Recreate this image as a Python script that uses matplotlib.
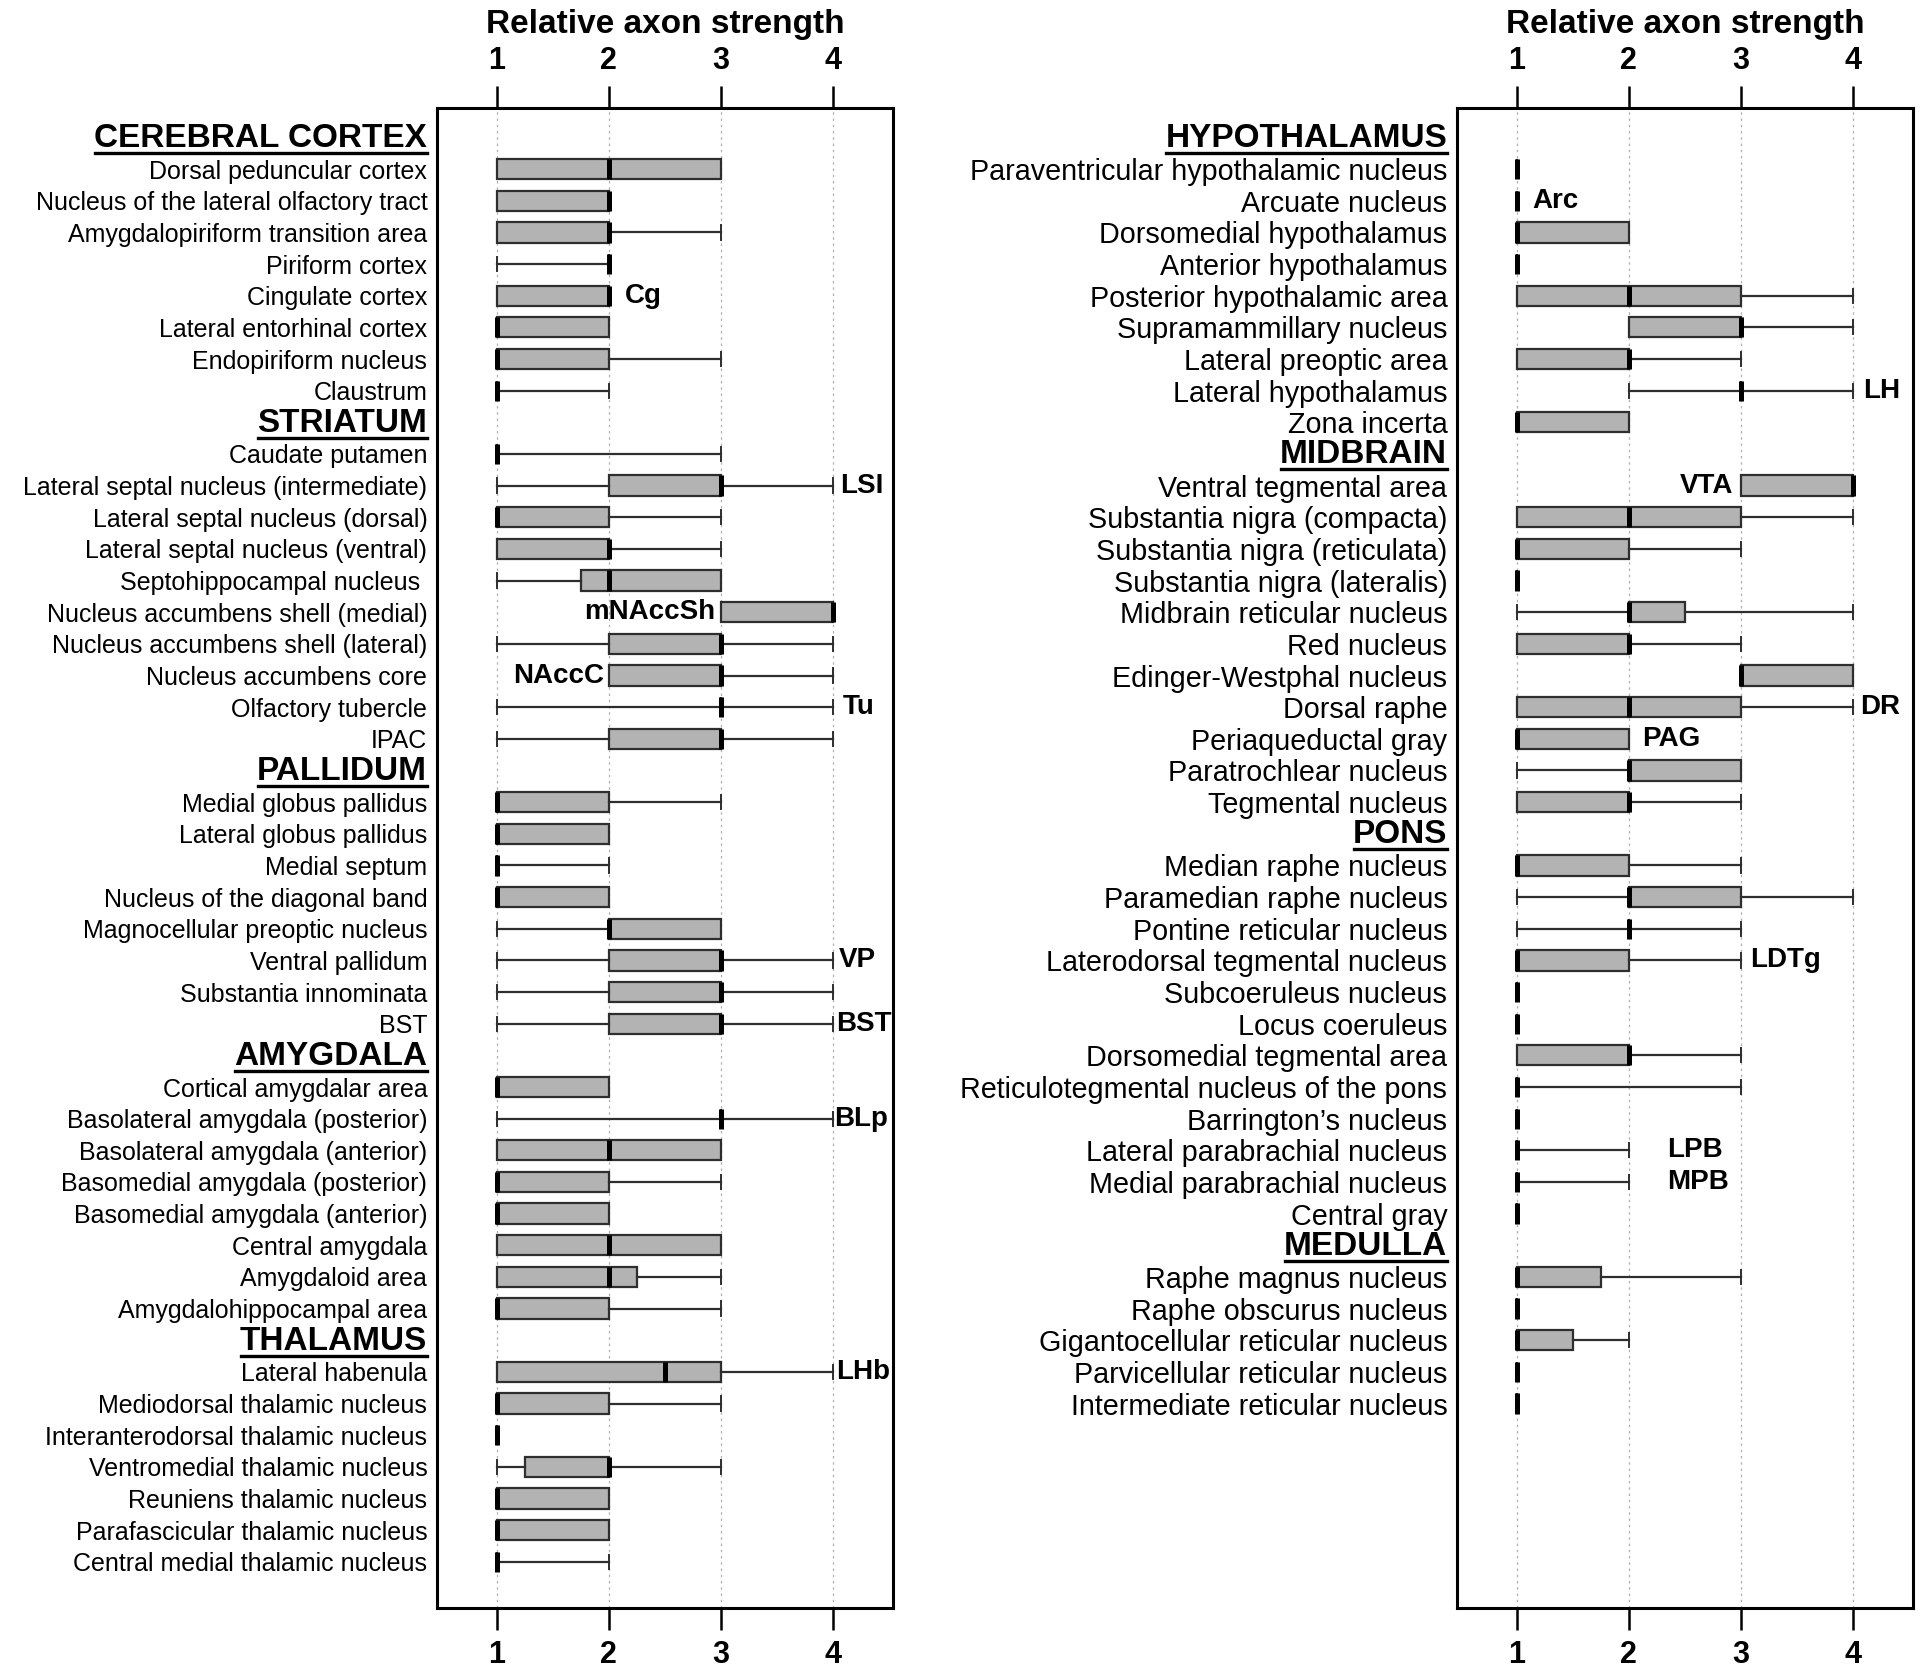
import matplotlib
matplotlib.use('Agg')
import matplotlib.pyplot as plt
from matplotlib.lines import Line2D
from matplotlib.transforms import blended_transform_factory

plt.rcParams['font.family'] = ['Liberation Sans', 'DejaVu Sans']

# ---------------- DATA ----------------
# each stat tuple: (whisker low, q1, median, q3, whisker high)
cortex_names = ["Dorsal peduncular cortex", "Nucleus of the lateral olfactory tract",
                "Amygdalopiriform transition area", "Piriform cortex", "Cingulate cortex",
                "Lateral entorhinal cortex", "Endopiriform nucleus", "Claustrum"]
cortex_stats = [(1, 1, 2, 3, 3), (1, 1, 2, 2, 2), (1, 1, 2, 2, 3), (1, 2, 2, 2, 2),
                (1, 1, 2, 2, 2), (1, 1, 1, 2, 2), (1, 1, 1, 2, 3), (1, 1, 1, 1, 2)]

striatum_names = ["Caudate putamen", "Lateral septal nucleus (intermediate)",
                  "Lateral septal nucleus (dorsal)", "Lateral septal nucleus (ventral)",
                  "Septohippocampal nucleus ", "Nucleus accumbens shell (medial)",
                  "Nucleus accumbens shell (lateral)", "Nucleus accumbens core",
                  "Olfactory tubercle", "IPAC"]
striatum_stats = [(1, 1, 1, 1, 3), (1, 2, 3, 3, 4), (1, 1, 1, 2, 3), (1, 1, 2, 2, 3),
                  (1, 1.75, 2, 3, 3), (3, 3, 4, 4, 4), (1, 2, 3, 3, 4), (2, 2, 3, 3, 4),
                  (1, 3, 3, 3, 4), (1, 2, 3, 3, 4)]

pallidum_names = ["Medial globus pallidus", "Lateral globus pallidus", "Medial septum",
                  "Nucleus of the diagonal band", "Magnocellular preoptic nucleus",
                  "Ventral pallidum", "Substantia innominata", "BST"]
pallidum_stats = [(1, 1, 1, 2, 3), (1, 1, 1, 2, 2), (1, 1, 1, 1, 2), (1, 1, 1, 2, 2),
                  (1, 2, 2, 3, 3), (1, 2, 3, 3, 4), (1, 2, 3, 3, 4), (1, 2, 3, 3, 4)]

amygdala_names = ["Cortical amygdalar area", "Basolateral amygdala (posterior)",
                  "Basolateral amygdala (anterior)", "Basomedial amygdala (posterior)",
                  "Basomedial amygdala (anterior)", "Central amygdala", "Amygdaloid area",
                  "Amygdalohippocampal area"]
amygdala_stats = [(1, 1, 1, 2, 2), (1, 3, 3, 3, 4), (1, 1, 2, 3, 3), (1, 1, 1, 2, 3),
                  (1, 1, 1, 2, 2), (1, 1, 2, 3, 3), (1, 1, 2, 2.25, 3), (1, 1, 1, 2, 3)]

thalamus_names = ["Lateral habenula", "Mediodorsal thalamic nucleus",
                  "Interanterodorsal thalamic nucleus", "Ventromedial thalamic nucleus",
                  "Reuniens thalamic nucleus", "Parafascicular thalamic nucleus",
                  "Central medial thalamic nucleus"]
thalamus_stats = [(1, 1, 2.5, 3, 4), (1, 1, 1, 2, 3), (1, 1, 1, 1, 1), (1, 1.25, 2, 2, 3),
                  (1, 1, 1, 2, 2), (1, 1, 1, 2, 2), (1, 1, 1, 1, 2)]

hypothalamus_names = ["Paraventricular hypothalamic nucleus", "Arcuate nucleus",
                      "Dorsomedial hypothalamus", "Anterior hypothalamus",
                      "Posterior hypothalamic area", "Supramammillary nucleus",
                      "Lateral preoptic area", "Lateral hypothalamus", "Zona incerta"]
hypothalamus_stats = [(1, 1, 1, 1, 1), (1, 1, 1, 1, 1), (1, 1, 1, 2, 2), (1, 1, 1, 1, 1),
                      (1, 1, 2, 3, 4), (2, 2, 3, 3, 4), (1, 1, 2, 2, 3), (2, 3, 3, 3, 4),
                      (1, 1, 1, 2, 2)]

midbrain_names = ["Ventral tegmental area", "Substantia nigra (compacta)",
                  "Substantia nigra (reticulata)", "Substantia nigra (lateralis)",
                  "Midbrain reticular nucleus", "Red nucleus", "Edinger-Westphal nucleus",
                  "Dorsal raphe", "Periaqueductal gray", "Paratrochlear nucleus",
                  "Tegmental nucleus"]
midbrain_stats = [(3, 3, 4, 4, 4), (1, 1, 2, 3, 4), (1, 1, 1, 2, 3), (1, 1, 1, 1, 1),
                  (1, 2, 2, 2.5, 4), (1, 1, 2, 2, 3), (3, 3, 3, 4, 4), (1, 1, 2, 3, 4),
                  (1, 1, 1, 2, 2), (1, 2, 2, 3, 3), (1, 1, 2, 2, 3)]

pons_names = ["Median raphe nucleus", "Paramedian raphe nucleus", "Pontine reticular nucleus",
              "Laterodorsal tegmental nucleus", "Subcoeruleus nucleus", "Locus coeruleus",
              "Dorsomedial tegmental area", "Reticulotegmental nucleus of the pons",
              "Barrington\u2019s nucleus", "Lateral parabrachial nucleus",
              "Medial parabrachial nucleus", "Central gray"]
pons_stats = [(1, 1, 1, 2, 3), (1, 2, 2, 3, 4), (1, 2, 2, 2, 3), (1, 1, 1, 2, 3),
              (1, 1, 1, 1, 1), (1, 1, 1, 1, 1), (1, 1, 2, 2, 3), (1, 1, 1, 1, 3),
              (1, 1, 1, 1, 1), (1, 1, 1, 1, 2), (1, 1, 1, 1, 2), (1, 1, 1, 1, 1)]

medulla_names = ["Raphe magnus nucleus", "Raphe obscurus nucleus",
                 "Gigantocellular reticular nucleus", "Parvicellular reticular nucleus",
                 "Intermediate reticular nucleus"]
medulla_stats = [(1, 1, 1, 1.75, 3), (1, 1, 1, 1, 1), (1, 1, 1, 1.5, 2), (1, 1, 1, 1, 1),
                 (1, 1, 1, 1, 1)]

left_sections = [("CEREBRAL CORTEX", cortex_names, cortex_stats),
                 ("STRIATUM", striatum_names, striatum_stats),
                 ("PALLIDUM", pallidum_names, pallidum_stats),
                 ("AMYGDALA", amygdala_names, amygdala_stats),
                 ("THALAMUS", thalamus_names, thalamus_stats)]
right_sections = [("HYPOTHALAMUS", hypothalamus_names, hypothalamus_stats),
                  ("MIDBRAIN", midbrain_names, midbrain_stats),
                  ("PONS", pons_names, pons_stats),
                  ("MEDULLA", medulla_names, medulla_stats)]

# annotations: (row name, label, side, gap)  side 'hi' -> right of high whisker, 'lo' -> left of q1
left_annot = [("Cingulate cortex", "Cg", "hi", 0.14),
              ("Lateral septal nucleus (intermediate)", "LSI", "hi", 0.06),
              ("Nucleus accumbens shell (medial)", "mNAccSh", "lo", 0.05),
              ("Nucleus accumbens core", "NAccC", "lo", 0.04),
              ("Olfactory tubercle", "Tu", "hi", 0.08),
              ("Ventral pallidum", "VP", "hi", 0.05),
              ("BST", "BST", "hi", 0.02),
              ("Basolateral amygdala (posterior)", "BLp", "hi", 0.01),
              ("Lateral habenula", "LHb", "hi", 0.02)]
right_annot = [("Arcuate nucleus", "Arc", "hi", 0.14),
               ("Lateral hypothalamus", "LH", "hi", 0.09),
               ("Ventral tegmental area", "VTA", "lo", 0.07),
               ("Dorsal raphe", "DR", "hi", 0.06),
               ("Periaqueductal gray", "PAG", "hi", 0.12),
               ("Laterodorsal tegmental nucleus", "LDTg", "hi", 0.08),
               ("Lateral parabrachial nucleus", "LPB", "hi", 0.34),
               ("Medial parabrachial nucleus", "MPB", "hi", 0.34)]

xticks = [1, 2, 3, 4]
xlabel = "Relative axon strength"

# ---------------- FIGURE ----------------
W, H = 1920, 1668
fig = plt.figure(figsize=(W / 100, H / 100), dpi=100)

ax_h_px = 1500
ax_w_px = 456
axL = fig.add_axes([437 / W, 60 / H, ax_w_px / W, ax_h_px / H])
axR = fig.add_axes([1457 / W, 60 / H, ax_w_px / W, ax_h_px / H])

BOX_FC = '#b3b3b3'
EDGE = '#2e2e2e'
headers_drawn = []


def draw_panel(ax, sections, annots, label_size):
    stats, pos, names = [], [], []
    header_pos = []
    slot = 0
    for title, nm, st in sections:
        header_pos.append((title, slot))
        slot += 1
        for n, s in zip(nm, st):
            stats.append(dict(whislo=s[0], q1=s[1], med=s[2], q3=s[3], whishi=s[4],
                              fliers=[], label=n))
            pos.append(slot)
            names.append(n)
            slot += 1
    kw = dict(positions=pos, widths=0.64, patch_artist=True, showfliers=False,
              manage_ticks=False, capwidths=0.45,
              boxprops=dict(facecolor=BOX_FC, edgecolor=EDGE, linewidth=1.6),
              whiskerprops=dict(color=EDGE, linewidth=1.6),
              capprops=dict(color=EDGE, linewidth=1.4),
              medianprops=dict(color='black', linewidth=3.6, solid_capstyle='butt'))
    try:
        ax.bxp(stats, orientation='horizontal', **kw)
    except TypeError:
        ax.bxp(stats, vert=False, **kw)

    ax.set_xlim(0.47, 4.53)
    ax.set_ylim(46.46, -0.93)
    ax.set_xticks(xticks)
    ax.set_xticklabels([str(t) for t in xticks])
    ax.tick_params(axis='x', top=True, labeltop=True, bottom=True, labelbottom=True,
                   direction='out', length=16, width=1.8, pad=7, labelsize=22)
    for lab in ax.get_xticklabels():
        lab.set_fontweight('bold')
    ax.set_yticks(pos)
    ax.set_yticklabels(names, fontsize=label_size)
    ax.tick_params(axis='y', length=0, pad=7)
    ax.grid(axis='x', linestyle=(0, (2, 3)), color='#b0b0b0', linewidth=0.9)
    ax.set_axisbelow(True)
    for sp in ax.spines.values():
        sp.set_linewidth(2.2)
        sp.set_color('black')

    ax.text(0.5, 1 + 84 / ax_h_px, xlabel, transform=ax.transAxes, ha='center',
            va='center', fontsize=24, fontweight='bold')

    tr = blended_transform_factory(ax.transAxes, ax.transData)
    for title, s in header_pos:
        t = ax.text(-10 / ax_w_px, s + 0.30, title, transform=tr, ha='right',
                    va='baseline', fontsize=24, fontweight='bold', clip_on=False)
        headers_drawn.append(t)

    lookup = {n: s for n, s in zip(names, stats)}
    ypos = {n: p for n, p in zip(names, pos)}
    for row, label, side, gap in annots:
        st = lookup[row]
        if side == 'hi':
            x, ha = st['whishi'] + gap, 'left'
        else:
            x, ha = st['q1'] - gap, 'right'
        ax.text(x, ypos[row], label, ha=ha, va='center', fontsize=20,
                fontweight='bold', clip_on=False)


draw_panel(axL, left_sections, left_annot, 18)
draw_panel(axR, right_sections, right_annot, 20.7)

# underline headers (just below the baseline)
fig.canvas.draw()
renderer = fig.canvas.get_renderer()
inv = fig.transFigure.inverted()
for t in headers_drawn:
    bb = t.get_window_extent(renderer)
    # baseline in display coords
    _, base_y = t.get_transform().transform(t.get_position())
    y = base_y - 6
    (x0, yy0), (x1, yy1) = inv.transform([(bb.x0 + 1, y), (bb.x1, y)])
    fig.add_artist(Line2D([x0, x1], [yy0, yy1], transform=fig.transFigure,
                          color='black', linewidth=2.4))

fig.savefig('out.png', dpi=100)
